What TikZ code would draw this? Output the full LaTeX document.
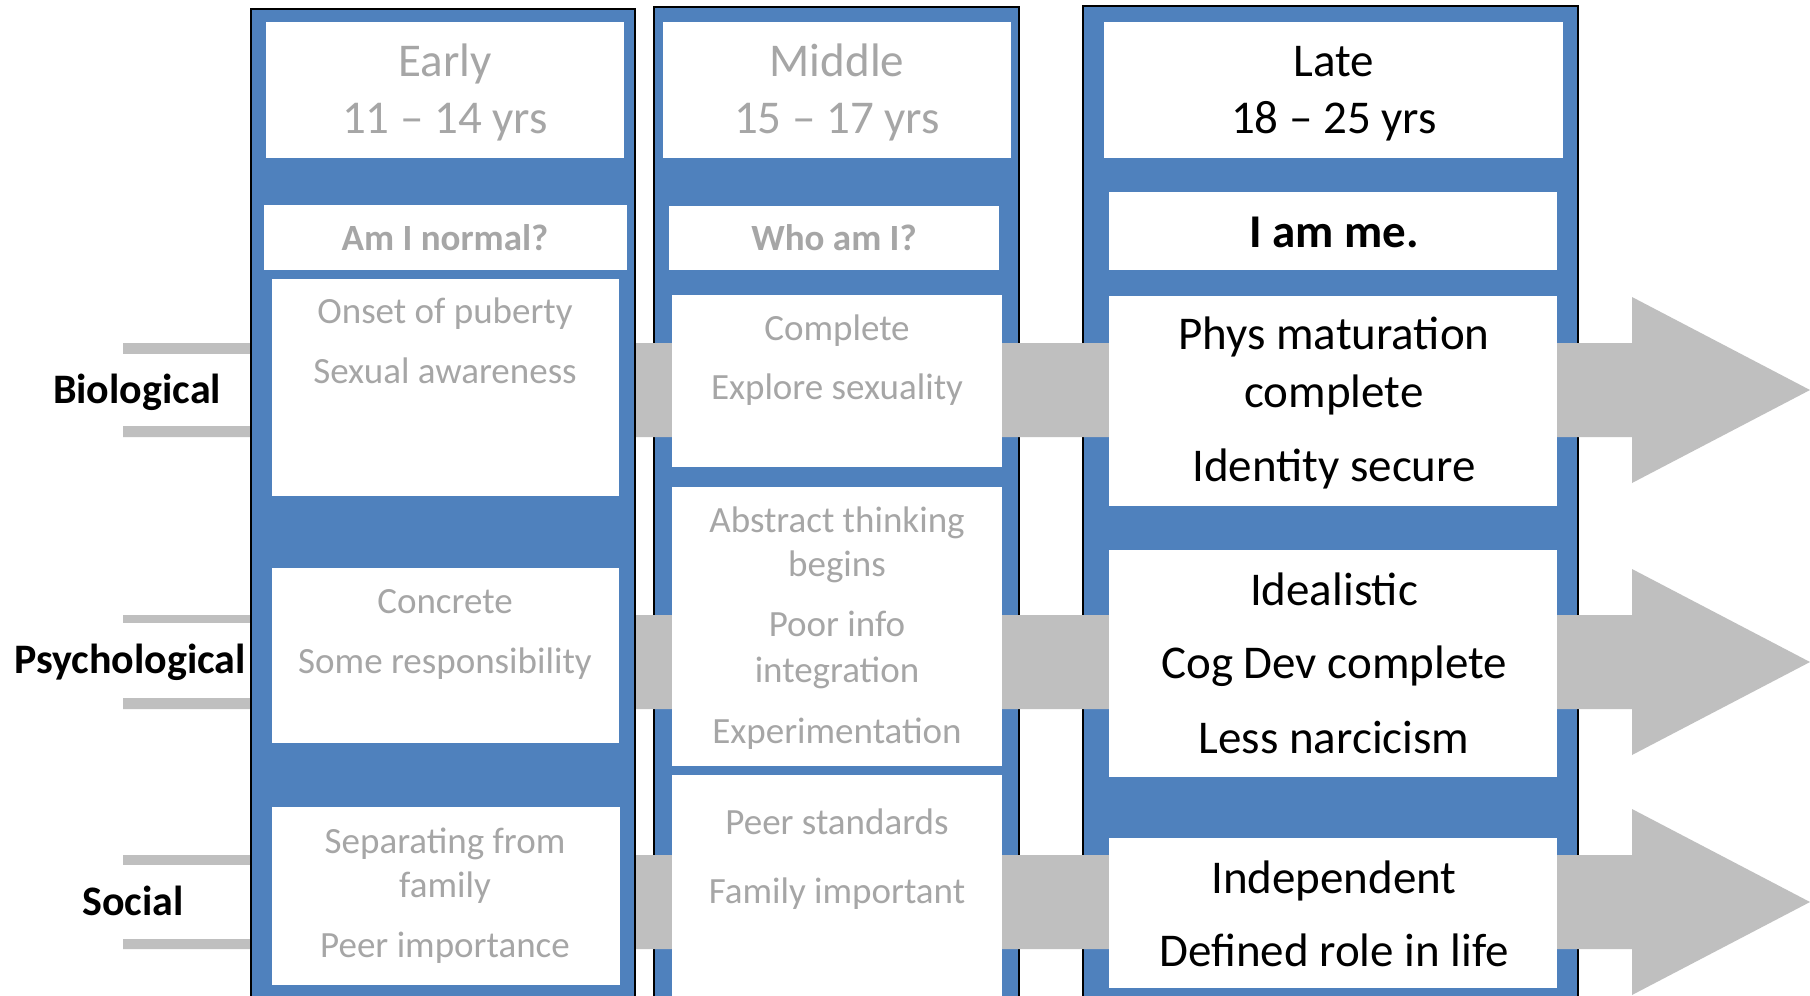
\documentclass[tikz,border=0pt]{standalone}
\usepackage{fontspec}
\setmainfont{Carlito}
\definecolor{colblue}{HTML}{4F81BD}
\definecolor{bandgray}{HTML}{BFBFBF}
\definecolor{softgray}{HTML}{A6A6A6}
\tikzset{
  stage/.style={fill=colblue,draw=black,line width=1pt},
  panel/.style={fill=white},
  band/.style={fill=bandgray},
  faint/.style={anchor=base,inner sep=0pt,text=softgray,font=\fontsize{18.5}{22}\selectfont},
  fainthead/.style={faint,font=\fontsize{23.5}{28}\selectfont},
  faintq/.style={faint,font=\bfseries\fontsize{18.5}{22}\selectfont},
  plain/.style={anchor=base,inner sep=0pt,text=black,font=\fontsize{23.5}{28}\selectfont},
  plainq/.style={plain,font=\bfseries\fontsize{23.5}{28}\selectfont},
  rowlabel/.style={anchor=base,inner sep=0pt,font=\bfseries\fontsize{21}{25}\selectfont}
}
\begin{document}
\begin{tikzpicture}[x=0.5pt,y=-0.5pt]
  \clip (0,0) rectangle (1810,996);
  \fill[white] (0,0) rectangle (1810,996);
  \draw[stage] (654,7) rectangle (1019,1020);
  \draw[stage] (1083,6) rectangle (1578,1020);
  \foreach \yc in {390,662,902}
    \fill[band] (123,\yc-47) -- (1632,\yc-47) -- (1632,\yc-93) -- (1810,\yc)
      -- (1632,\yc+93) -- (1632,\yc+47) -- (123,\yc+47) -- cycle;
  \fill[white] (100,354) rectangle (251,426);
  \fill[white] (100,623) rectangle (251,698);
  \fill[white] (100,865) rectangle (251,939);
  \draw[stage] (251,9) rectangle (635,1020);

  \fill[panel] (266,22) rectangle (624,158);
  \fill[panel] (264,205) rectangle (627,270);
  \fill[panel] (272,279) rectangle (619,496);
  \fill[panel] (272,568) rectangle (619,743);
  \fill[panel] (272,807) rectangle (620,985);
  \fill[panel] (663,22) rectangle (1011,158);
  \fill[panel] (669,206) rectangle (999,270);
  \fill[panel] (672,295) rectangle (1002,467);
  \fill[panel] (672,487) rectangle (1002,766);
  \fill[panel] (672,775) rectangle (1002,1020);
  \fill[panel] (1104,22) rectangle (1563,158);
  \fill[panel] (1109,192) rectangle (1557,270);
  \fill[panel] (1109,296) rectangle (1557,506);
  \fill[panel] (1109,550) rectangle (1557,777);
  \fill[panel] (1109,838) rectangle (1557,988);

  \node[rowlabel] (bio) at (137,403) {Biological};
  \node[rowlabel] (psy) at (130,673) {Psychological};
  \node[rowlabel] (soc) at (133,915) {Social};

  \node[fainthead] (early) at (445,76) {Early};
  \node[fainthead] (earlyage) at (445,133) {11 -- 14 yrs};
  \node[faintq] (earlyq) at (445,250) {Am I normal?};
  \node[faint] (earlybio1) at (445,323) {Onset of puberty};
  \node[faint] (earlybio2) at (445,383) {Sexual awareness};
  \node[faint] (earlypsy1) at (445,613) {Concrete};
  \node[faint] (earlypsy2) at (445,673) {Some responsibility};
  \node[faint] (earlysoc1) at (445,853) {Separating from};
  \node[faint] (earlysoc2) at (445,897) {family};
  \node[faint] (earlysoc3) at (445,957) {Peer importance};

  \node[fainthead] (middle) at (837,76) {Middle};
  \node[fainthead] (middleage) at (837,133) {15 -- 17 yrs};
  \node[faintq] (middleq) at (834,250) {Who am I?};
  \node[faint] (middlebio1) at (837,340) {Complete};
  \node[faint] (middlebio2) at (837,399) {Explore sexuality};
  \node[faint] (middlepsy1) at (837,532) {Abstract thinking};
  \node[faint] (middlepsy2) at (837,576) {begins};
  \node[faint] (middlepsy3) at (837,636) {Poor info};
  \node[faint] (middlepsy4) at (837,682) {integration};
  \node[faint] (middlepsy5) at (837,743) {Experimentation};
  \node[faint] (middlesoc1) at (837,834) {Peer standards};
  \node[faint] (middlesoc2) at (837,903) {Family important};

  \node[plain] (late) at (1334,76) {Late};
  \node[plain] (lateage) at (1334,133) {18 -- 25 yrs};
  \node[plainq] (lateq) at (1334,247) {I am me.};
  \node[plain] (latebio1) at (1334,349) {Phys maturation};
  \node[plain] (latebio2) at (1334,407) {complete};
  \node[plain] (latebio3) at (1334,481) {Identity secure};
  \node[plain] (latepsy1) at (1334,605) {Idealistic};
  \node[plain] (latepsy2) at (1334,678) {Cog Dev complete};
  \node[plain] (latepsy3) at (1334,753) {Less narcicism};
  \node[plain] (latesoc1) at (1334,893) {Independent};
  \node[plain] (latesoc2) at (1334,966) {Defined role in life};
\end{tikzpicture}
\end{document}
